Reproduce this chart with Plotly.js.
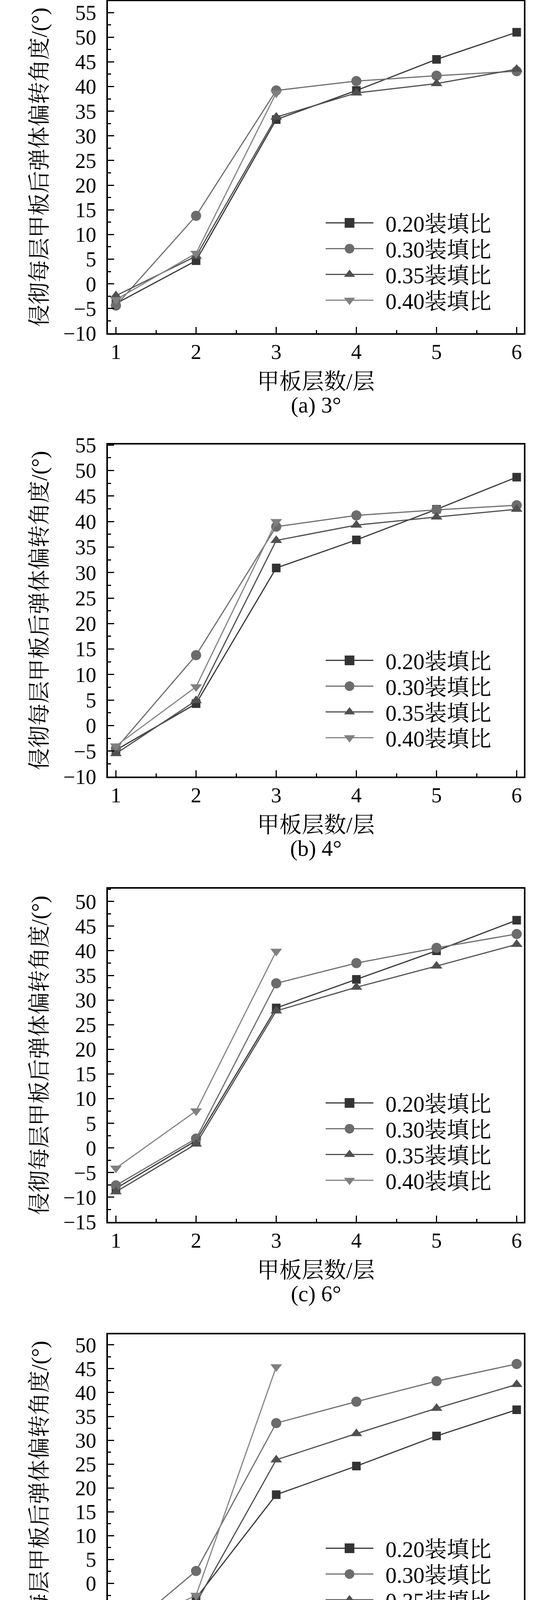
<!DOCTYPE html>
<html>
<head>
<meta charset="utf-8">
<script src="https://cdn.plot.ly/plotly-3.0.1.min.js"></script>
<style>
html,body{margin:0;padding:0;background:#ffffff;}
#chart{width:1417px;height:4498px;}
</style>
</head>
<body>
<div id="chart"></div>
<script>
// ---------------- data ----------------
const layers = [1, 2, 3, 4, 5, 6];
const seriesNames = ['0.20装填比', '0.30装填比', '0.35装填比', '0.40装填比'];
const panelCaptions = ['(a) 3°', '(b) 4°', '(c) 6°', '(d) 8°'];
const xTitle = '甲板层数/层';
const yTitle = '侵彻每层甲板后弹体偏转角度/(°)';

// (a) 3°
const a_020 = [-4.0, 4.7, 33.3, 39.2, 45.5, 51.0];
const a_030 = [-4.4, 13.8, 39.2, 41.1, 42.2, 43.1];
const a_035 = [-2.4, 5.6, 33.8, 38.7, 40.6, 43.5];
const a_040 = [-3.2, 6.2, 38.7];
// (b) 4°
const b_020 = [-4.8, 4.3, 30.9, 36.4, 42.4, 48.7];
const b_030 = [-4.5, 13.8, 39.0, 41.2, 42.3, 43.2];
const b_035 = [-5.5, 4.9, 36.3, 39.3, 40.9, 42.4];
const b_040 = [-4.0, 7.6, 40.0];
// (c) 6°
const c_020 = [-8.2, 1.5, 28.4, 34.2, 40.0, 46.2];
const c_030 = [-7.6, 1.9, 33.4, 37.5, 40.6, 43.4];
const c_035 = [-8.9, 0.8, 27.8, 32.6, 36.9, 41.3];
const c_040 = [-4.1, 7.5, 39.9];
// (d) 8°
const d_020 = [-11.7, -3.1, 18.6, 24.6, 30.9, 36.4];
const d_030 = [-11.5, 2.6, 33.6, 38.1, 42.4, 46.0];
const d_035 = [-12.3, -4.1, 25.9, 31.4, 36.7, 41.7];
const d_040 = [-10.4, -2.5, 45.4];

const yRanges = [[-10, 57.3], [-10, 55.1], [-15, 52.6], [-17.4, 52.2]];

// ---------------- styling / layout ----------------
const FONT = '"Liberation Serif", "Times New Roman", "Noto Serif CJK SC", "Noto Sans CJK SC", serif';
const W = 1417, H = 4498;
const mL = 276, mR = 77, mT = 3, mB = 232;
const plotH = H - mT - mB;
const baseY = H - mB;            // pixel y of paper y=0
const frames = [[3, 853], [1138, 1988], [2275, 3128], [3416, 4266]];
const legendRow1 = [572, 1692, 2825, 3965];
const ROWGAP = 66;

const styles = [
  {color: '#333333', line: '#3a3a3a', symbol: 'square', size: 22},
  {color: '#6c6c6c', line: '#707070', symbol: 'circle', size: 26},
  {color: '#505050', line: '#505050', symbol: 'triangle-up', size: 26},
  {color: '#808080', line: '#868686', symbol: 'triangle-down', size: 26}
];

const panelData = [
  [a_020, a_030, a_035, a_040],
  [b_020, b_030, b_035, b_040],
  [c_020, c_030, c_035, c_040],
  [d_020, d_030, d_035, d_040]
];

const py2paper = p => (baseY - p) / plotH;

const traces = [];
const layout = {
  width: W, height: H,
  margin: {l: mL, r: mR, t: mT, b: mB},
  paper_bgcolor: '#ffffff', plot_bgcolor: '#ffffff',
  font: {family: FONT, color: '#000000', size: 54},
  showlegend: true,
  annotations: []
};

panelData.forEach((series, p) => {
  const sfx = p === 0 ? '' : String(p + 1);
  const legId = 'legend' + sfx;
  series.forEach((ys, s) => {
    traces.push({
      type: 'scatter', mode: 'lines+markers',
      x: layers.slice(0, ys.length), y: ys,
      name: seriesNames[s],
      xaxis: 'x' + sfx, yaxis: 'y' + sfx,
      legend: legId,
      line: {color: styles[s].line, width: 3},
      marker: {color: styles[s].color, symbol: styles[s].symbol, size: styles[s].size, line: {width: 0}},
      cliponaxis: false
    });
  });
  const [top, bottom] = frames[p];
  const axCommon = {
    showline: true, linewidth: 4, linecolor: '#000000', mirror: true,
    ticks: 'inside', tickwidth: 3, tickcolor: '#000000',
    showgrid: false, zeroline: false,
    tickfont: {family: FONT, size: 54, color: '#000000'}
  };
  layout['xaxis' + sfx] = Object.assign({}, axCommon, {
    domain: [0, 1], anchor: 'y' + sfx,
    range: [0.9, 6.09], tickmode: 'linear', tick0: 1, dtick: 1, ticklen: 16,
    ticklabelstandoff: -3,
    minor: {ticks: 'inside', dtick: 0.5, tick0: 1, ticklen: 8, tickwidth: 3, tickcolor: '#000000'},
    title: {text: xTitle, font: {family: FONT, size: 57, color: '#000000'}, standoff: 27}
  });
  layout['yaxis' + sfx] = Object.assign({}, axCommon, {
    domain: [py2paper(bottom), py2paper(top)], anchor: 'x' + sfx,
    range: yRanges[p], tickmode: 'linear', tick0: 0, dtick: 5, ticklen: 16,
    ticklabelstandoff: 15,
    minor: {ticks: 'inside', dtick: 2.5, tick0: 0, ticklen: 8, tickwidth: 3, tickcolor: '#000000'},
    title: {text: yTitle, font: {family: FONT, size: 57, color: '#000000'}, standoff: 24}
  });
  layout[legId] = {
    x: (828 - mL) / (W - mL - mR), xanchor: 'left',
    y: py2paper(legendRow1[p] - 45), yanchor: 'top',
    bgcolor: 'rgba(0,0,0,0)', borderwidth: 0,
    font: {family: FONT, size: 57, color: '#000000'},
    itemwidth: 148, tracegroupgap: 0
  };
  layout.annotations.push({
    text: panelCaptions[p], xref: 'paper', yref: 'paper',
    x: 0.5, y: py2paper(bottom + 184), xanchor: 'center', yanchor: 'middle',
    showarrow: false, font: {family: FONT, size: 57, color: '#000000'}
  });
});

Plotly.newPlot('chart', traces, layout, {staticPlot: true, displayModeBar: false}).then(gd => {
  // make legend symbols resemble the reference (long line, larger marker, tighter rows)
  const groups = gd.querySelectorAll('.infolayer > g');
  groups.forEach(g => {
    const cls = g.getAttribute('class') || '';
    if (!/^legend/.test(cls)) return;
    const items = g.querySelectorAll('g.traces');
    let y0 = null;
    items.forEach((it, i) => {
      const tr = it.getAttribute('transform') || '';
      const m = tr.match(/translate\(\s*([-\d.]+)[ ,]+([-\d.]+)\s*\)/);
      if (m) {
        const x = parseFloat(m[1]), y = parseFloat(m[2]);
        if (y0 === null) y0 = y;
        it.setAttribute('transform', 'translate(' + x + ',' + (y0 + i * ROWGAP) + ')');
      }
      it.querySelectorAll('.legendlines path').forEach(pth => pth.setAttribute('d', 'M5,0h122'));
      it.querySelectorAll('.legendsymbols path.scatterpts').forEach(pth => {
        pth.setAttribute('transform', 'translate(66,0) scale(1.55)');
      });
    });
  });
});
</script>
</body>
</html>
